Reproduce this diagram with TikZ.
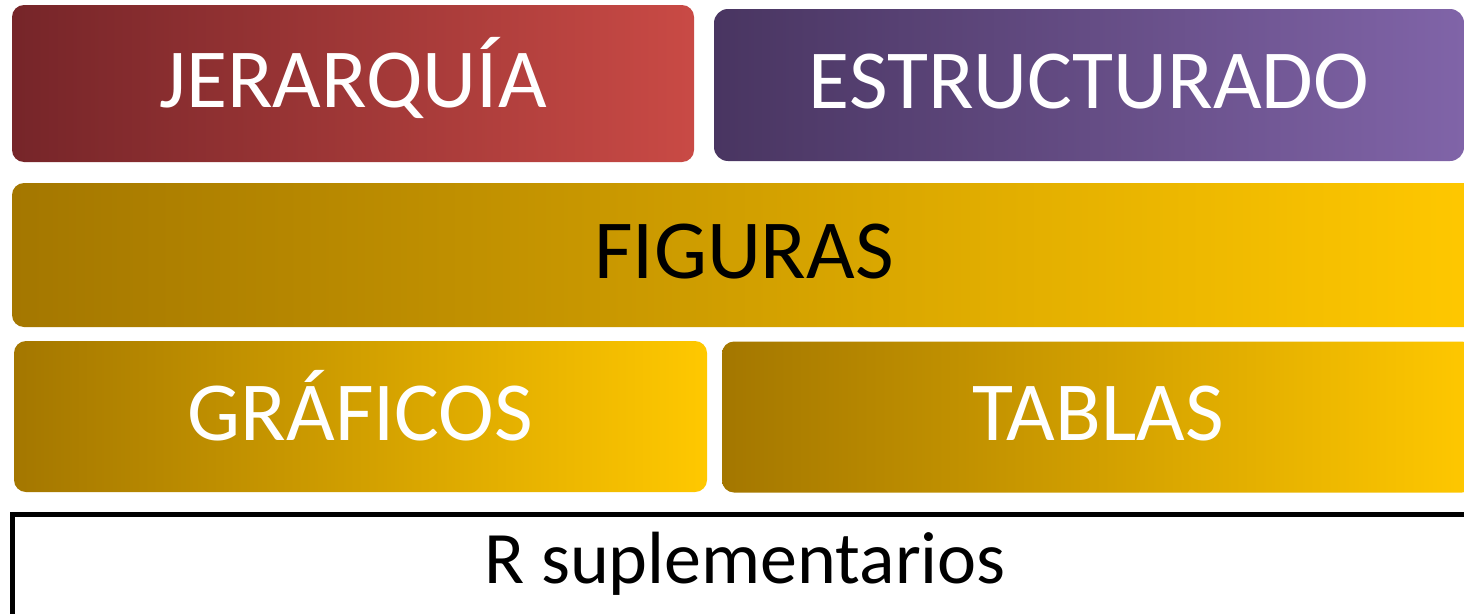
\documentclass[tikz,border=0pt]{standalone}
\usepackage{fontspec}
\setmainfont{Carlito}
\definecolor{redL}{RGB}{118,37,41}
\definecolor{redR}{RGB}{201,74,69}
\definecolor{purL}{RGB}{73,53,97}
\definecolor{purR}{RGB}{128,100,168}
\definecolor{goldL}{RGB}{164,119,0}
\definecolor{goldR}{RGB}{255,200,0}
\tikzset{
  tile/.style={rounded corners=12pt, inner sep=0pt, align=center,
    font=\fontsize{84}{96}\selectfont, text height=47pt, text depth=0pt},
  redtile/.style={tile, left color=redL, right color=redR, text=white},
  purtile/.style={tile, left color=purL, right color=purR, text=white, rounded corners=14pt},
  goldtile/.style={tile, left color=goldL, right color=goldR},
  basebox/.style={draw=black, line width=5pt, fill=white, inner sep=0pt,
    font=\fontsize{74}{86}\selectfont, text height=47pt, text depth=21pt}
}
\begin{document}
\begin{tikzpicture}[x=1pt,y=-1pt]
\useasboundingbox (0,0) rectangle (1464,613);
\node[redtile, minimum width=682pt, minimum height=157pt] (jer) at (353,83.5) {JERARQUÍA};
\node[purtile, minimum width=750pt, minimum height=152pt] (est) at (1089,85) {ESTRUCTURADO};
\node[goldtile, text=black, minimum width=1464pt, minimum height=144pt] (fig) at (744,255) {FIGURAS};
\node[goldtile, text=white, minimum width=693pt, minimum height=151pt] (gra) at (360.5,416.5) {GRÁFICOS};
\node[goldtile, text=white, minimum width=752pt, minimum height=151pt] (tab) at (1098,417) {TABLAS};
\node[basebox, minimum width=1466pt, minimum height=112pt] (sup) at (745,570) {R suplementarios};
\end{tikzpicture}
\end{document}
